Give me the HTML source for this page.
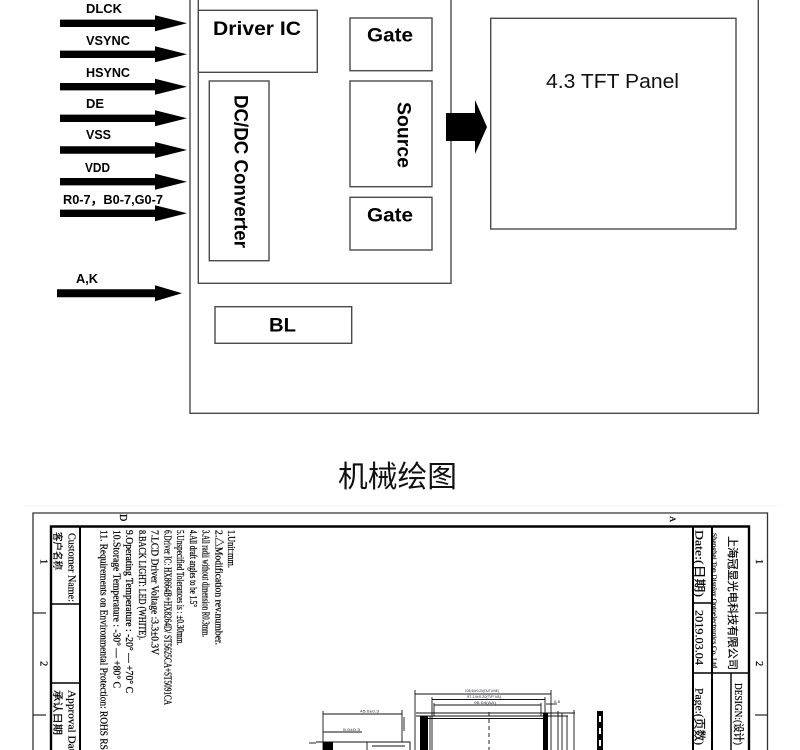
<!DOCTYPE html>
<html>
<head>
<meta charset="utf-8">
<style>
html,body{margin:0;padding:0;background:#fff;}
svg{display:block;}
.b{font-family:"Liberation Sans",Arial,sans-serif;font-weight:bold;fill:#000;}
.r{font-family:"Liberation Sans",Arial,sans-serif;fill:#111;}
.s{font-family:"Liberation Serif","Noto Serif CJK SC",serif;fill:#000;stroke:#000;stroke-width:0.25;}
.c{font-family:"Liberation Serif","Noto Sans CJK SC",serif;fill:#000;stroke:#000;stroke-width:0.2;}
</style>
</head>
<body>
<svg width="800" height="750" viewBox="0 0 800 750" xmlns="http://www.w3.org/2000/svg">
<!-- ===== Block diagram ===== -->
<g fill="none" stroke="#4a4a4a" stroke-width="1.4">
  <path d="M190,-2 V413.3 H758.3 V-2"/>
  <path d="M198.3,-2 V283.3 H451 V-2"/>
  <rect x="198.3" y="10.3" width="119" height="62"/>
  <rect x="209.3" y="81" width="59.7" height="179.7"/>
  <rect x="350" y="18" width="82" height="52.7"/>
  <rect x="350" y="81" width="82" height="105.7"/>
  <rect x="350" y="197.3" width="82" height="52.7"/>
  <rect x="215" y="306.7" width="136.7" height="36.6"/>
  <rect x="490.7" y="18.3" width="245.3" height="210.7"/>
</g>

<g fill="#000">
  <polygon points="60,19.6 155,19.6 155,15.3 187,23.3 155,31.3 155,27 60,27"/>
  <polygon points="60,50.6 155,50.6 155,46.3 187,54.3 155,62.3 155,58 60,58"/>
  <polygon points="60,83 155,83 155,78.7 187,86.7 155,94.7 155,90.4 60,90.4"/>
  <polygon points="60,114.6 155,114.6 155,110.3 187,118.3 155,126.3 155,122 60,122"/>
  <polygon points="60,146.3 155,146.3 155,142 187,150 155,158 155,153.7 60,153.7"/>
  <polygon points="60,178 155,178 155,173.7 187,181.7 155,189.7 155,185.4 60,185.4"/>
  <polygon points="60,209.6 155,209.6 155,205.3 187,213.3 155,221.3 155,217 60,217"/>
  <polygon points="57,289.3 155,289.3 155,285.3 182,293.3 155,301.3 155,297.3 57,297.3"/>
  <polygon points="446,113 475,113 475,100 487,127 475,154 475,141 446,141"/>
</g>

<g class="b" font-size="13">
  <text x="86" y="13" textLength="36" lengthAdjust="spacingAndGlyphs">DLCK</text>
  <text x="86" y="45" textLength="44" lengthAdjust="spacingAndGlyphs">VSYNC</text>
  <text x="86" y="77" textLength="44" lengthAdjust="spacingAndGlyphs">HSYNC</text>
  <text x="86" y="108" textLength="18" lengthAdjust="spacingAndGlyphs">DE</text>
  <text x="86" y="139" textLength="25" lengthAdjust="spacingAndGlyphs">VSS</text>
  <text x="85" y="172" textLength="25" lengthAdjust="spacingAndGlyphs">VDD</text>
  <text x="63" y="204" textLength="100" lengthAdjust="spacingAndGlyphs">R0-7，B0-7,G0-7</text>
  <text x="76" y="283" textLength="22" lengthAdjust="spacingAndGlyphs">A,K</text>
</g>

<g class="b" font-size="19">
  <text x="213" y="35" textLength="88" lengthAdjust="spacingAndGlyphs">Driver IC</text>
  <text x="367" y="41.7" textLength="46" lengthAdjust="spacingAndGlyphs">Gate</text>
  <text x="367" y="221.7" textLength="46" lengthAdjust="spacingAndGlyphs">Gate</text>
  <text x="269" y="331.7" textLength="27" lengthAdjust="spacingAndGlyphs">BL</text>
  <text transform="translate(397.5,102) rotate(90)" textLength="66" lengthAdjust="spacingAndGlyphs">Source</text>
  <text transform="translate(234.5,95) rotate(90)" textLength="153" lengthAdjust="spacingAndGlyphs">DC/DC Converter</text>
</g>
<text class="r" x="546" y="88" font-size="20" textLength="133" lengthAdjust="spacingAndGlyphs">4.3 TFT Panel</text>

<!-- ===== Title ===== -->
<text x="338" y="487" font-size="30" style="font-family:'Liberation Sans','Noto Sans CJK SC',sans-serif;fill:#111;" textLength="119" lengthAdjust="spacingAndGlyphs">机械绘图</text>
<line x1="25" y1="506" x2="777" y2="506" stroke="#f0f0f0" stroke-width="1"/>

<!-- ===== Mechanical drawing frame ===== -->
<g fill="none">
  <path d="M33,752 V513 H767.5 V752" stroke="#333" stroke-width="1.3"/>
  <path d="M51,752 V526.5 H749 V752" stroke="#000" stroke-width="2.4"/>
  <line x1="80" y1="526" x2="80" y2="752" stroke="#000" stroke-width="2"/>
  <line x1="51" y1="604" x2="80" y2="604" stroke="#000" stroke-width="1.6"/>
  <line x1="51" y1="683" x2="80" y2="683" stroke="#000" stroke-width="1.6"/>
  <line x1="33" y1="613" x2="46" y2="613" stroke="#222" stroke-width="1.2"/>
  <line x1="33" y1="715" x2="46" y2="715" stroke="#222" stroke-width="1.2"/>
  <line x1="693" y1="526" x2="693" y2="752" stroke="#000" stroke-width="2"/>
  <line x1="712" y1="526" x2="712" y2="752" stroke="#000" stroke-width="2"/>
  <line x1="693" y1="603" x2="712" y2="603" stroke="#000" stroke-width="1.4"/>
  <line x1="693" y1="673" x2="749" y2="673" stroke="#000" stroke-width="1.6"/>
  <line x1="731" y1="673" x2="731" y2="752" stroke="#000" stroke-width="1.4"/>
  <line x1="755" y1="613" x2="767" y2="613" stroke="#222" stroke-width="1.2"/>
  <line x1="755" y1="715" x2="767" y2="715" stroke="#222" stroke-width="1.2"/>
</g>

<g class="s" font-size="10.5">
  <text transform="translate(40.5,559) rotate(90)">1</text>
  <text transform="translate(40.5,661) rotate(90)">2</text>
  <text transform="translate(756,559) rotate(90)">1</text>
  <text transform="translate(756,661) rotate(90)">2</text>
  <text transform="translate(120,514) rotate(90)" font-size="10">D</text>
  <text transform="translate(670,516) rotate(90)" font-size="8.5">A</text>
</g>

<g class="c">
  <text transform="translate(68.5,533) rotate(90)" font-size="11" textLength="69" lengthAdjust="spacingAndGlyphs">Customer Name:</text>
  <text transform="translate(54,532) rotate(90)" font-size="10" textLength="38" lengthAdjust="spacingAndGlyphs">客户名称</text>
  <text transform="translate(68.5,690) rotate(90)" font-size="11" textLength="70" lengthAdjust="spacingAndGlyphs">Approval Date:</text>
  <text transform="translate(54,690) rotate(90)" font-size="10" textLength="45" lengthAdjust="spacingAndGlyphs">承认日期</text>
</g>

<g class="c">
  <text transform="translate(695.5,530) rotate(90)" font-size="12" textLength="67" lengthAdjust="spacingAndGlyphs">Date:(日期)</text>
  <text transform="translate(695.5,610) rotate(90)" font-size="12" textLength="55" lengthAdjust="spacingAndGlyphs">2019.03.04</text>
  <text transform="translate(695.5,688) rotate(90)" font-size="12" textLength="57" lengthAdjust="spacingAndGlyphs">Page:(页数)</text>
  <text transform="translate(712.5,533) rotate(90)" font-size="6" textLength="135" lengthAdjust="spacingAndGlyphs">Shanghai Top Display Optoelectronics Co.,Ltd</text>
  <text transform="translate(729,536) rotate(90)" font-size="11" textLength="134" lengthAdjust="spacingAndGlyphs">上海冠显光电科技有限公司</text>
  <text transform="translate(735,683) rotate(90)" font-size="11" textLength="62" lengthAdjust="spacingAndGlyphs">DESIGN:(设计)</text>
</g>

<g class="s" font-size="10">
  <text transform="translate(228,530) rotate(90)" textLength="38" lengthAdjust="spacingAndGlyphs">1.Unit:mm.</text>
  <text transform="translate(215.3,530) rotate(90)" textLength="115" lengthAdjust="spacingAndGlyphs">2.△Modification rev.number.</text>
  <text transform="translate(202.5,530) rotate(90)" textLength="107" lengthAdjust="spacingAndGlyphs">3.All radii without dimension R0.3mm.</text>
  <text transform="translate(189.8,530) rotate(90)" textLength="77" lengthAdjust="spacingAndGlyphs">4.All draft angles to be 1.5°</text>
  <text transform="translate(177,530) rotate(90)" textLength="115" lengthAdjust="spacingAndGlyphs">5.Unspecified Tolerances is : ±0.30mm.</text>
  <text transform="translate(164.3,530) rotate(90)" textLength="175" lengthAdjust="spacingAndGlyphs">6.Driver IC: HX8664B+HX8264D/ ST5625CA+ST5091CA</text>
  <text transform="translate(151.5,530) rotate(90)" textLength="125" lengthAdjust="spacingAndGlyphs">7.LCD Driver Voltage :3.3±0.3V</text>
  <text transform="translate(138.8,530) rotate(90)" textLength="110" lengthAdjust="spacingAndGlyphs">8.BACK LIGHT: LED  (WHITE).</text>
  <text transform="translate(126,530) rotate(90)" textLength="163" lengthAdjust="spacingAndGlyphs">9.Operating Temperature : -20° — +70° C</text>
  <text transform="translate(113.3,530) rotate(90)" textLength="158" lengthAdjust="spacingAndGlyphs">10.Storage Temperature : -30° — +80° C</text>
  <text transform="translate(100.5,530) rotate(90)" textLength="225" lengthAdjust="spacingAndGlyphs">11. Requirements on Environmental Protection: ROHS RSP</text>
</g>

<!-- ===== Mechanical drawing details ===== -->
<g stroke="#111" stroke-width="0.9" fill="none">
  <line x1="415" y1="694" x2="551" y2="694"/>
  <line x1="432" y1="699.5" x2="545" y2="699.5"/>
  <line x1="434" y1="705" x2="541" y2="705"/>
  <line x1="415" y1="690" x2="415" y2="752"/>
  <line x1="551" y1="690" x2="551" y2="752"/>
  <line x1="432" y1="697" x2="432" y2="752"/>
  <line x1="545" y1="697" x2="545" y2="716"/>
  <line x1="434" y1="703" x2="434" y2="716"/>
  <line x1="541" y1="703" x2="541" y2="716"/>
  <line x1="546" y1="704" x2="557" y2="704"/>
  <line x1="416" y1="713" x2="575" y2="713"/>
  <line x1="416" y1="716" x2="568" y2="716"/>
  <line x1="428" y1="718.5" x2="548" y2="718.5"/>
  <line x1="430" y1="716" x2="430" y2="752"/>
  <line x1="558" y1="711" x2="558" y2="752"/>
  <line x1="562" y1="713" x2="562" y2="752"/>
  <line x1="567" y1="716" x2="567" y2="752"/>
  <line x1="574" y1="710" x2="574" y2="752"/>
  <line x1="489" y1="712" x2="489" y2="752" stroke-dasharray="4,3"/>
  <line x1="323" y1="714" x2="402" y2="714"/>
  <line x1="323" y1="732" x2="362" y2="732"/>
  <line x1="323" y1="711" x2="323" y2="752"/>
  <line x1="402" y1="710" x2="402" y2="742"/>
  <line x1="404" y1="717" x2="404" y2="731"/>
  <line x1="316" y1="742" x2="410" y2="742"/>
  <rect x="367" y="742" width="43" height="10"/>
  <line x1="372" y1="746" x2="405" y2="746"/>
  <line x1="410" y1="742" x2="410" y2="752"/>
  <line x1="309" y1="743" x2="316" y2="743"/>
</g>
<g fill="#000">
  <rect x="420" y="716" width="8" height="36"/>
  <rect x="543" y="713" width="5" height="39"/>
  <rect x="323" y="742" width="10" height="10"/>
  <rect x="597" y="711" width="6" height="40"/>
</g>
<g fill="#fff">
  <rect x="599" y="716" width="2" height="6"/>
  <rect x="599" y="728" width="2" height="6"/>
  <rect x="599" y="740" width="2" height="6"/>
</g>
<g font-size="4" style="font-family:'Liberation Sans',sans-serif;fill:#223;">
  <text x="465" y="692" textLength="34" lengthAdjust="spacingAndGlyphs">105.40±0.20(OUTLINE)</text>
  <text x="467" y="698" textLength="34" lengthAdjust="spacingAndGlyphs">97.14±0.20(T/P VA)</text>
  <text x="474" y="704" textLength="22" lengthAdjust="spacingAndGlyphs">95.04(AA)</text>
  <text x="360" y="712.5" textLength="19" lengthAdjust="spacingAndGlyphs">45.0±0.3</text>
  <text x="343" y="731" textLength="17" lengthAdjust="spacingAndGlyphs">5.0±0.3</text>
  <text x="554" y="703" textLength="6" lengthAdjust="spacingAndGlyphs">0.8</text>
</g>
</svg>
</body>
</html>
